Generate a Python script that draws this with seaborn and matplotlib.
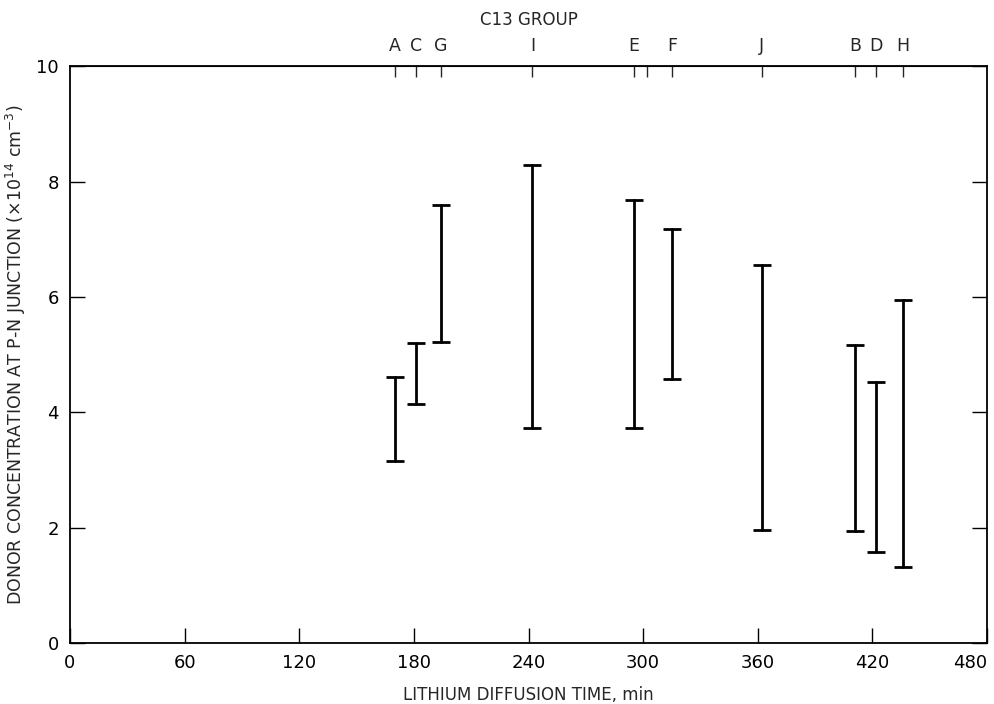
import pandas as pd
import matplotlib
matplotlib.use("Agg")
import matplotlib.pyplot as plt
import seaborn as sns

# samples of the C13 group: diffusion time (min) and donor concentration range (x1e14 cm^-3)
samples = ["A", "C", "G", "I", "E", "F", "J", "B", "D", "H"]
times = [170, 181, 194, 242, 295, 315, 362, 411, 422, 436]
conc_low = [3.16, 4.14, 5.21, 3.72, 3.72, 4.58, 1.96, 1.95, 1.58, 1.32]
conc_high = [4.61, 5.20, 7.59, 8.28, 7.68, 7.18, 6.55, 5.17, 4.52, 5.95]

x_ticks = [0, 60, 120, 180, 240, 300, 360, 420, 480]
y_ticks = [0, 2, 4, 6, 8, 10]

sns.set_style("ticks")
plt.rcParams["font.family"] = ["Liberation Sans Narrow", "DejaVu Sans"]

df = pd.DataFrame({
    "sample": samples * 2,
    "time": times * 2,
    "conc": conc_low + conc_high,
})

fig = plt.figure(figsize=(9.94, 7.04), dpi=100)
ax = fig.add_axes([0.0704, 0.0866, 0.9226, 0.8194])

# vertical range bars, one line per sample
sns.lineplot(data=df, x="time", y="conc", units="sample", estimator=None,
             sort=False, color="black", lw=2.0, ax=ax, legend=False)
# caps at both ends
sns.scatterplot(data=df, x="time", y="conc", marker="_", s=170,
                color="black", linewidth=2.0, ax=ax, legend=False)

ax.set_xlim(0, 480)
ax.set_ylim(0, 10)
ax.set_xticks(x_ticks)
ax.set_yticks(y_ticks)
ax.tick_params(axis="both", direction="in", length=11, width=1.0,
               labelsize=13, pad=8, right=True, colors="black")
# last label sits flush with the right frame, like the original
ax.get_xticklabels()[-1].set_horizontalalignment("right")
ax.set_xlabel("LITHIUM DIFFUSION TIME, min", fontsize=12, labelpad=10)
ax.set_ylabel(r"DONOR CONCENTRATION AT P-N JUNCTION ($\times$10$^{14}$ cm$^{-3}$)",
              fontsize=12.5, labelpad=6)

for side in ["top", "bottom", "left", "right"]:
    ax.spines[side].set_linewidth(1.3)
    ax.spines[side].set_color("black")

# sample letters on top axis (plus one unlabeled tick near 302 min)
top = ax.secondary_xaxis("top")
top.set_xticks(times + [302], labels=samples + [""])
top.tick_params(direction="in", length=8, width=1.0, labelsize=12.5, pad=8)
top.set_xlabel("C13 GROUP", fontsize=12, labelpad=9)

fig.savefig("out.png", dpi=100)
